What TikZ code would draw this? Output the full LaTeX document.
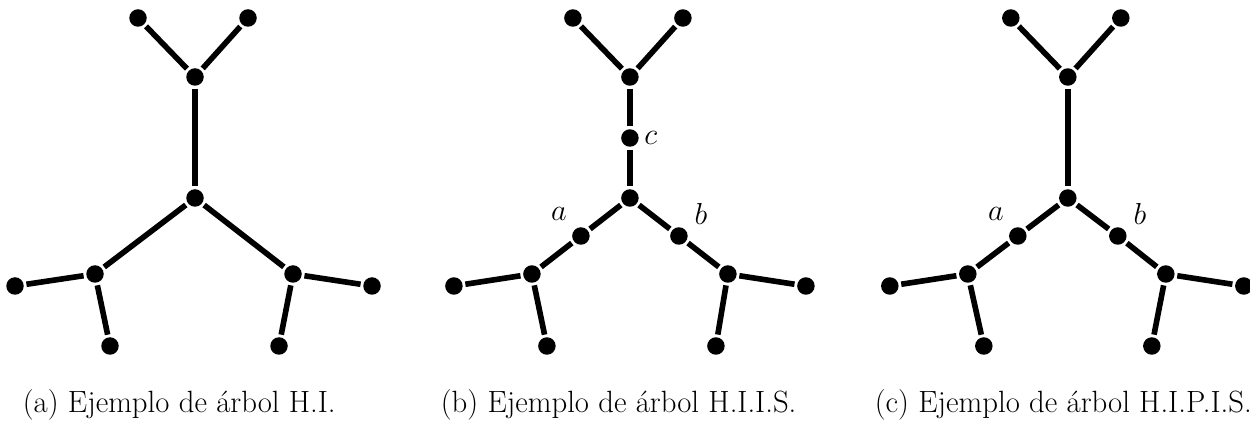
\documentclass[tikz,border=0pt]{standalone}
\usepackage{tikz}
\usetikzlibrary{positioning}
\begin{document}
\begin{tikzpicture}[x=0.02cm, y=-0.02cm, line width=3.2pt,
  dot/.style={circle, fill=black, inner sep=0pt, minimum size=0.35cm},
  lab/.style={font=\fontsize{17}{20}\selectfont, inner sep=1pt},
  caption/.style={font=\fontsize{17.5}{21}\selectfont, anchor=base west, inner sep=0pt}]
\useasboundingbox (0,0) rectangle (1250,421);
% (a) arbol H.I.
\begin{scope}
\node[dot] (at1) at (138,18) {};
\node[dot] (at2) at (248,18) {};
\node[dot] (atop) at (195,77) {};
\node[dot] (acen) at (195,198) {};
\node[dot] (al) at (95,274) {};
\node[dot] (al1) at (15,286) {};
\node[dot] (al2) at (110,346) {};
\node[dot] (ar) at (293,274) {};
\node[dot] (ar1) at (372,286) {};
\node[dot] (ar2) at (279,346) {};
\draw (at1) -- (atop) -- (at2);
\draw (atop) -- (acen);
\draw (acen) -- (al);
\draw (acen) -- (ar);
\draw (al1) -- (al) -- (al2);
\draw (ar1) -- (ar) -- (ar2);
\end{scope}
% (b) arbol H.I.I.S.
\begin{scope}[xshift=8.7cm]
\node[dot] (bt1) at (138,18) {};
\node[dot] (bt2) at (248,18) {};
\node[dot] (btop) at (195,77) {};
\node[dot] (bc) at (195,138) {};
\node[dot] (bcen) at (195,198) {};
\node[dot] (ba) at (146,236) {};
\node[dot] (bb) at (244,236) {};
\node[dot] (bl) at (97,274) {};
\node[dot] (bl1) at (19,286) {};
\node[dot] (bl2) at (112,346) {};
\node[dot] (br) at (293,274) {};
\node[dot] (br1) at (371,286) {};
\node[dot] (br2) at (281,346) {};
\draw (bt1) -- (btop) -- (bt2);
\draw (btop) -- (bc) -- (bcen);
\draw (bcen) -- (ba) -- (bl);
\draw (bcen) -- (bb) -- (br);
\draw (bl1) -- (bl) -- (bl2);
\draw (br1) -- (br) -- (br2);
\node[lab, right=-1pt of bc] (blc) {$c$};
\node[lab] (bla) at (124,214) {$a$};
\node[lab] (blb) at (266,214) {$b$};
\end{scope}
% (c) arbol H.I.P.I.S.
\begin{scope}[xshift=17.46cm]
\node[dot] (ct1) at (138,18) {};
\node[dot] (ct2) at (248,18) {};
\node[dot] (ctop) at (195,77) {};
\node[dot] (ccen) at (195,198) {};
\node[dot] (ca) at (145,236) {};
\node[dot] (cb) at (245,236) {};
\node[dot] (cl) at (95,274) {};
\node[dot] (cl1) at (17,286) {};
\node[dot] (cl2) at (111,346) {};
\node[dot] (cr) at (293,274) {};
\node[dot] (cr1) at (371,286) {};
\node[dot] (cr2) at (279,346) {};
\draw (ct1) -- (ctop) -- (ct2);
\draw (ctop) -- (ccen);
\draw (ccen) -- (ca) -- (cl);
\draw (ccen) -- (cb) -- (cr);
\draw (cl1) -- (cl) -- (cl2);
\draw (cr1) -- (cr) -- (cr2);
\node[lab] (cla) at (123,214) {$a$};
\node[lab] (clb) at (267,214) {$b$};
\end{scope}
% captions
\node[caption] (capa) at (20,413) {(a) Ejemplo de árbol H.I.};
\node[caption] (capb) at (438,413) {(b) Ejemplo de árbol H.I.I.S.};
\node[caption] (capc) at (872,413) {(c) Ejemplo de árbol H.I.P.I.S.};
\end{tikzpicture}
\end{document}
